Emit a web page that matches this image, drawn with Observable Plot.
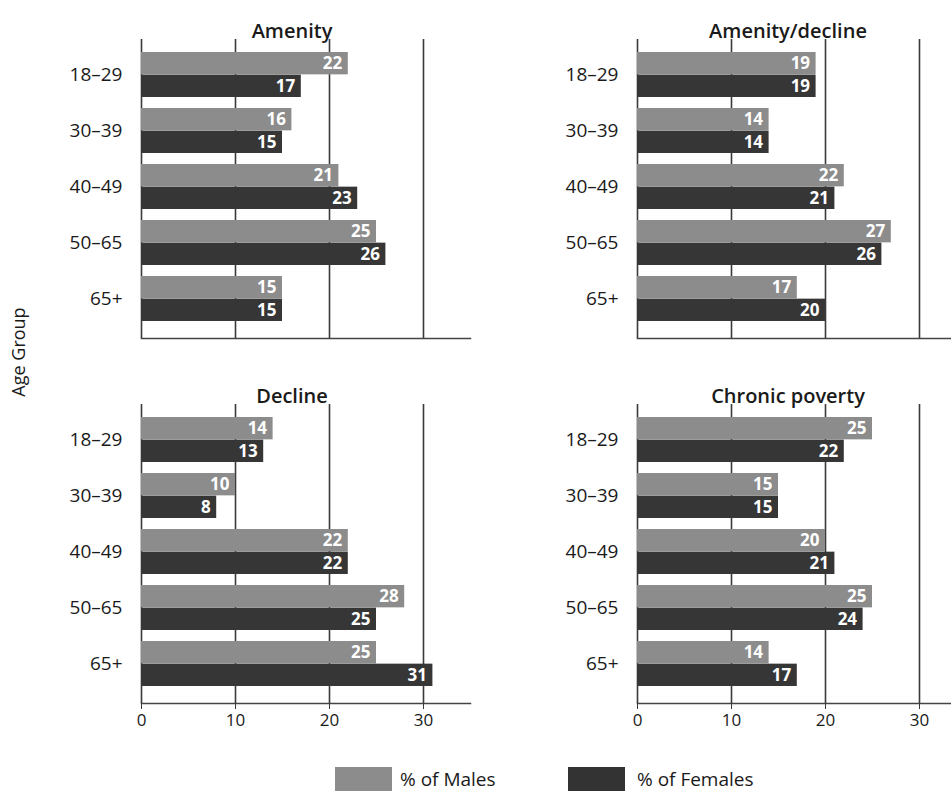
<!DOCTYPE html>
<html>
<head>
<meta charset="utf-8">
<script src="https://cdn.jsdelivr.net/npm/d3@7"></script>
<script src="https://cdn.jsdelivr.net/npm/@observablehq/plot@0.6"></script>
<style>
  html, body { margin: 0; padding: 0; background: #fff; overflow: hidden; }
  #wrap { position: relative; width: 951px; height: 791px; overflow: hidden; font-family: "Open Sans", sans-serif; color: #1a1a1a; }
  #chart { position: absolute; left: 0; top: 0; width: 980px; }
  #chart svg { max-width: none !important; }
  #ylabel { position: absolute; left: 18px; top: 352px; transform: translate(-50%, -50%) rotate(-90deg); font-size: 18px; white-space: nowrap; }
  .lg { position: absolute; top: 767px; height: 26px; }
  .lgt { position: absolute; top: 765px; font-size: 19px; line-height: 28px; white-space: nowrap; }
</style>
</head>
<body>
<div id="wrap">
  <div id="chart"></div>
  <div id="ylabel">Age Group</div>
  <div class="lg" style="left:335px;width:57px;background:#8c8c8c;"></div>
  <div class="lgt" style="left:400px;">% of Males</div>
  <div class="lg" style="left:568px;width:57px;background:#333;"></div>
  <div class="lgt" style="left:637px;">% of Females</div>
</div>
<script>
const ageGroups = ["18–29", "30–39", "40–49", "50–65", "65+"];
const panels = ["Amenity", "Amenity/decline", "Decline", "Chronic poverty"];
const malesAmenity = [22, 16, 21, 25, 15];
const femalesAmenity = [17, 15, 23, 26, 15];
const malesAmenityDecline = [19, 14, 22, 27, 17];
const femalesAmenityDecline = [19, 14, 21, 26, 20];
const malesDecline = [14, 10, 22, 28, 25];
const femalesDecline = [13, 8, 22, 25, 31];
const malesChronic = [25, 15, 20, 25, 14];
const femalesChronic = [22, 15, 21, 24, 17];
const xTicks = [0, 10, 20, 30];

const maleSeries = [malesAmenity, malesAmenityDecline, malesDecline, malesChronic];
const femaleSeries = [femalesAmenity, femalesAmenityDecline, femalesDecline, femalesChronic];

const titles = panels.map((name, i) => ({name, col: i % 2, row: Math.floor(i / 2)}));
const males = [], females = [];
panels.forEach((name, i) => {
  ageGroups.forEach((age, j) => {
    males.push({panel: name, col: i % 2, row: Math.floor(i / 2), age, value: maleSeries[i][j]});
    females.push({panel: name, col: i % 2, row: Math.floor(i / 2), age, value: femaleSeries[i][j]});
  });
});

// layout constants
const marginTop = 38, marginBottom = 40, facetBottom = 704;
const height = facetBottom + marginBottom;
const fyPad = 0.18;
const facetH = (facetBottom - marginTop) / (2 - fyPad) * (1 - fyPad);
const yPadIn = 0.2, yPadOut = 0.25;
const bw = facetH / (5 - yPadIn + 2 * yPadOut) * (1 - yPadIn);
const half = bw / 2;

const chart = Plot.plot({
  width: 980,
  height,
  marginTop,
  marginBottom,
  marginLeft: 141,
  marginRight: 14,
  style: {fontFamily: "Open Sans, sans-serif", fontSize: "19px", color: "#1a1a1a", background: "transparent", maxWidth: "none"},
  fx: {domain: [0, 1], paddingInner: 0.3367, paddingOuter: 0, axis: null},
  fy: {domain: [0, 1], paddingInner: fyPad, paddingOuter: 0, axis: null},
  x: {domain: [0, 35]},
  y: {domain: ageGroups, paddingInner: yPadIn, paddingOuter: yPadOut, align: 0.42},
  marks: [
    Plot.ruleX(xTicks, {stroke: "#3a3a3a", strokeWidth: 1.6}),
    Plot.frame({anchor: "bottom", stroke: "#444", strokeWidth: 1.5}),
    Plot.barX(males, {x: "value", y: "age", fx: "col", fy: "row", fill: "#8c8c8c", insetBottom: half}),
    Plot.barX(females, {x: "value", y: "age", fx: "col", fy: "row", fill: "#363636", insetTop: half}),
    Plot.text(males, {x: "value", y: "age", fx: "col", fy: "row", text: d => String(d.value), dy: -half / 2, dx: -6, textAnchor: "end", fill: "white", fontWeight: "bold", fontSize: 17}),
    Plot.text(females, {x: "value", y: "age", fx: "col", fy: "row", text: d => String(d.value), dy: half / 2, dx: -6, textAnchor: "end", fill: "white", fontWeight: "bold", fontSize: 17}),
    Plot.text(titles, {fx: "col", fy: "row", text: "name", frameAnchor: "top", dy: -16, dx: -14, fontSize: 20, fontWeight: 600, fill: "#1a1a1a"}),
    Plot.axisX({ticks: xTicks, tickSize: 6, tickPadding: 4, fontSize: 17, label: null, stroke: "#3a3a3a"}),
    Plot.axisY({facetAnchor: null, tickSize: 0, tickPadding: 19, fontSize: 19, label: null})
  ]
});
document.getElementById("chart").appendChild(chart);
</script>
</body>
</html>
